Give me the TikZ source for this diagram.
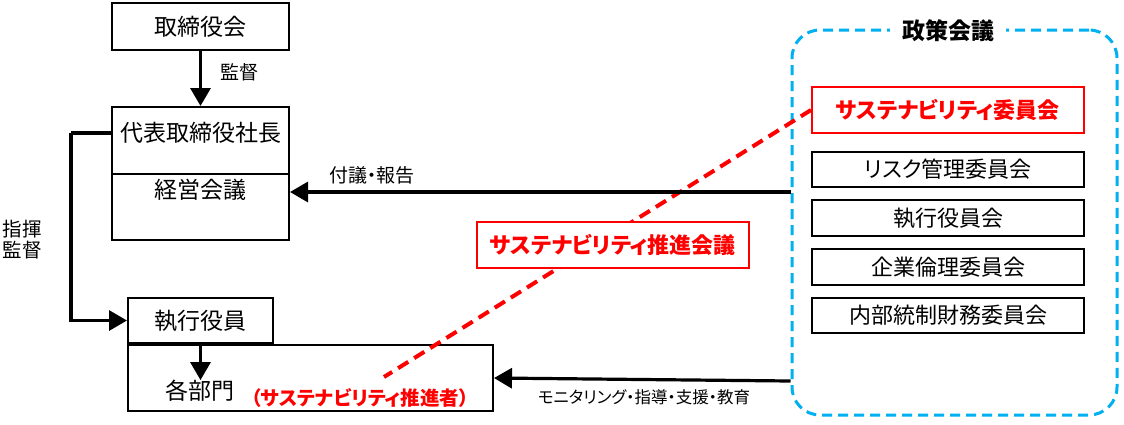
\documentclass[tikz,border=0pt]{standalone}
\usepackage{fontspec}
\setmainfont{Noto Sans CJK JP}[RawFeature=+palt]
\usetikzlibrary{arrows.meta}
\definecolor{polblue}{RGB}{0,176,240}
\tikzset{
  box/.style={draw=black, line width=2pt, inner sep=0pt, align=center},
  redbox/.style={draw=red, line width=2pt, inner sep=0pt, fill=white, text=red, font=\bfseries\fontsize{22}{25}\selectfont},
  arr/.style={line width=3.2pt, -{Triangle[length=18pt,width=20pt]}},
  big/.style={font=\fontsize{23}{26}\selectfont},
  comm/.style={box, minimum width=272pt, font=\fontsize{22}{25}\selectfont},
  lbl/.style={inner sep=0pt, font=\fontsize{19}{22}\selectfont},
  reddash/.style={draw=red, line width=4pt, dash pattern=on 12pt off 7pt},
}
\begin{document}
\begin{tikzpicture}[x=1pt,y=-1pt]
\useasboundingbox (0,0) rectangle (1124,424);
% left column
\node[box, big, minimum width=177pt, minimum height=47pt] (board) at (200.5,26.5) {取締役会};
\node[box, minimum width=177pt, minimum height=133pt] (ceo) at (200.5,173.5) {};
\node[big, inner sep=0pt] (ceotxt) at (200.5,133) {代表取締役社長};
\node[big, inner sep=0pt] (mgmt) at (200.5,190) {経営会議};
\draw[line width=2pt] (ceo.west |- 0,174) -- (ceo.east |- 0,174);
\node[box, big, minimum width=145pt, minimum height=45pt] (exec) at (200.5,320.5) {執行役員};
\node[box, minimum width=365pt, minimum height=66pt] (depts) at (310.5,378) {};
\node[big, inner sep=0pt] (dtxt) at (200,391) {各部門};
\node[inner sep=0pt, text=red, font=\bfseries\fontsize{19.5}{22}\selectfont] (promoter) at (360,398) {（サステナビリティ推進者）};
% policy container
\node[draw=polblue, line width=3pt, dash pattern=on 10pt off 6pt, rounded corners=28pt, minimum width=325pt, minimum height=385pt] (policy) at (954.5,222.5) {};
\node[fill=white, inner xsep=12pt, inner ysep=2pt, font=\bfseries\fontsize{23}{26}\selectfont] (poltitle) at (948,31) {政策会議};
% red dashed link
\coordinate (pend) at (384,377);
\node[redbox, minimum width=272pt, minimum height=46pt] (sc) at (948,110) {サステナビリティ委員会};
\draw[reddash] (sc.west) -- (pend);
\node[redbox, minimum width=272pt, minimum height=46pt] (spc) at (613,245) {サステナビリティ推進会議};
% committees
\node[comm, minimum height=35pt] (risk) at (948,169.5) {リスク管理委員会};
\node[comm, minimum height=36pt] (execc) at (948,218) {執行役員会};
\node[comm, minimum height=36pt] (ethic) at (948,267) {企業倫理委員会};
\node[comm, minimum height=35pt] (ictrl) at (948,315.5) {内部統制財務委員会};
% arrows
\draw[arr] (board.south) -- (ceo.north);
\node[lbl] (l1) at (239,72) {監督};
\draw[line width=3.2pt] (ceo.west |- ceotxt) -- ++(-40,0) coordinate (c1);
\draw[arr] (c1) |- (exec.west);
\node[lbl, font=\fontsize{19.5}{22}\selectfont, align=center] (l2) at (22,240) {指揮\\[-1pt]監督};
\draw[arr] (exec.south) -- (exec.south |- dtxt.north);
\draw[arr] (policy.west |- 0,192) -- (ceo.east |- 0,192);
\node[lbl] (l3) at (372,175) {付議・報告};
\draw[arr] (policy.west |- 0,381) -- (depts.east);
\node[lbl, font=\fontsize{16.5}{19}\selectfont] (l4) at (644,397) {モニタリング・指導・支援・教育};
\end{tikzpicture}
\end{document}
